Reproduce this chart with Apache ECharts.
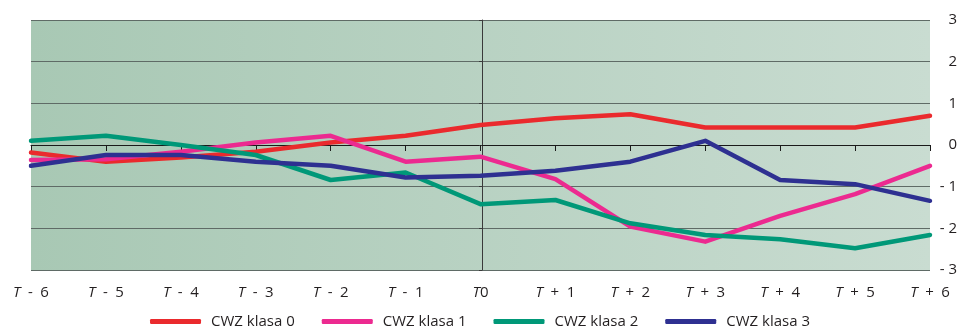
<!DOCTYPE html>
<html>
<head>
<meta charset="utf-8">
<script src="https://cdn.jsdelivr.net/npm/echarts@6/dist/echarts.min.js"></script>
<style>
  html, body { margin: 0; padding: 0; background: #ffffff; }
  #chart { width: 960px; height: 326px; }
</style>
</head>
<body>
<div id="chart"></div>
<script>
// Periods around the reference point T0
const periods = ['T - 6', 'T - 5', 'T - 4', 'T - 3', 'T - 2', 'T - 1', 'T0',
                 'T + 1', 'T + 2', 'T + 3', 'T + 4', 'T + 5', 'T + 6'];

// CWZ index by class
const klasa0 = [-0.18, -0.40, -0.30, -0.16, 0.06, 0.22, 0.48, 0.64, 0.74, 0.42, 0.42, 0.42, 0.70];
const klasa1 = [-0.36, -0.34, -0.16, 0.06, 0.22, -0.40, -0.28, -0.82, -1.96, -2.32, -1.70, -1.18, -0.50];
const klasa2 = [0.10, 0.22, 0.00, -0.24, -0.84, -0.66, -1.42, -1.32, -1.88, -2.16, -2.26, -2.48, -2.16];
const klasa3 = [-0.50, -0.24, -0.24, -0.40, -0.50, -0.78, -0.74, -0.62, -0.40, 0.10, -0.84, -0.94, -1.34];

const seriesNames = ['CWZ klasa 0', 'CWZ klasa 1', 'CWZ klasa 2', 'CWZ klasa 3'];
const seriesColors = ['#ea2a2d', '#ec2a90', '#009878', '#2e3091'];

const yTicks = { min: -3, max: 3, step: 1 };

const FONT = '"Open Sans", "Noto Sans", sans-serif';
const FONT_SIZE = 15;
const TEXT = '#231f20';
const GRID_LINE = '#5f6b66';

const chart = echarts.init(document.getElementById('chart'), null, { renderer: 'canvas' });

const gridLeft = 31, gridRight = 27;
const plotWidth = 960 - gridLeft - gridRight;
const t0Offset = -(plotWidth * periods.indexOf('T0') / (periods.length - 1));

// wider gaps around the sign in period labels
const spaced = s => s.replace(/ /g, '\u2002');

chart.setOption({
  animation: false,
  backgroundColor: '#ffffff',
  grid: {
    left: gridLeft, right: gridRight, top: 20, bottom: 56,
    show: true,
    borderWidth: 0,
    backgroundColor: new echarts.graphic.LinearGradient(0, 0, 1, 0, [
      { offset: 0, color: '#a8c8b4' },
      { offset: 1, color: '#c9dcd1' }
    ])
  },
  legend: {
    top: 309,
    left: 'center',
    icon: 'roundRect',
    itemWidth: 51,
    itemHeight: 5,
    itemGap: 27,
    textStyle: { fontFamily: FONT, fontSize: FONT_SIZE, color: TEXT, padding: [0, 0, 0, 5] },
    data: seriesNames
  },
  xAxis: [
    {
      type: 'category',
      data: periods,
      boundaryGap: false,
      position: 'bottom',
      axisLine: { show: false, onZero: false },
      axisTick: { show: false },
      splitLine: { show: false },
      axisLabel: {
        margin: 15,
        interval: 0,
        fontFamily: FONT,
        fontSize: FONT_SIZE,
        color: TEXT,
        formatter: v => '{i|T}' + spaced(v.slice(1)),
        rich: { i: { fontFamily: FONT, fontSize: FONT_SIZE, fontStyle: 'italic', color: TEXT } }
      }
    },
    {
      type: 'category',
      data: periods,
      boundaryGap: false,
      position: 'bottom',
      axisLine: { show: true, onZero: true, lineStyle: { color: '#1a1a1a', width: 1 } },
      axisTick: { show: true, length: 6, interval: 0, lineStyle: { color: '#1a1a1a' } },
      axisLabel: { show: false },
      splitLine: { show: false }
    }
  ],
  yAxis: [
    {
      type: 'value',
      position: 'right',
      min: yTicks.min, max: yTicks.max, interval: yTicks.step,
      axisLine: { show: false },
      axisTick: { show: false },
      splitLine: { show: true, lineStyle: { color: GRID_LINE, width: 1 } },
      axisLabel: {
        margin: 27,
        align: 'right',
        fontFamily: FONT,
        fontSize: FONT_SIZE,
        color: TEXT,
        formatter: v => v < 0 ? '- ' + Math.abs(v) : String(v)
      }
    },
    {
      // vertical line marking T0
      type: 'value',
      position: 'left',
      offset: t0Offset,
      min: yTicks.min, max: yTicks.max, interval: yTicks.step,
      axisLine: { show: true, onZero: false, lineStyle: { color: '#3a3a3a', width: 1 } },
      axisTick: { show: true, length: 3, lineStyle: { color: '#3a3a3a' } },
      axisLabel: { show: false },
      splitLine: { show: false }
    }
  ],
  series: [klasa0, klasa1, klasa2, klasa3].map((data, i) => ({
    name: seriesNames[i],
    type: 'line',
    xAxisIndex: 0,
    yAxisIndex: 0,
    data: data,
    symbol: 'none',
    color: seriesColors[i],
    lineStyle: { width: 4.5, color: seriesColors[i], cap: 'round', join: 'round' },
    z: 3 + i
  }))
});
</script>
</body>
</html>
